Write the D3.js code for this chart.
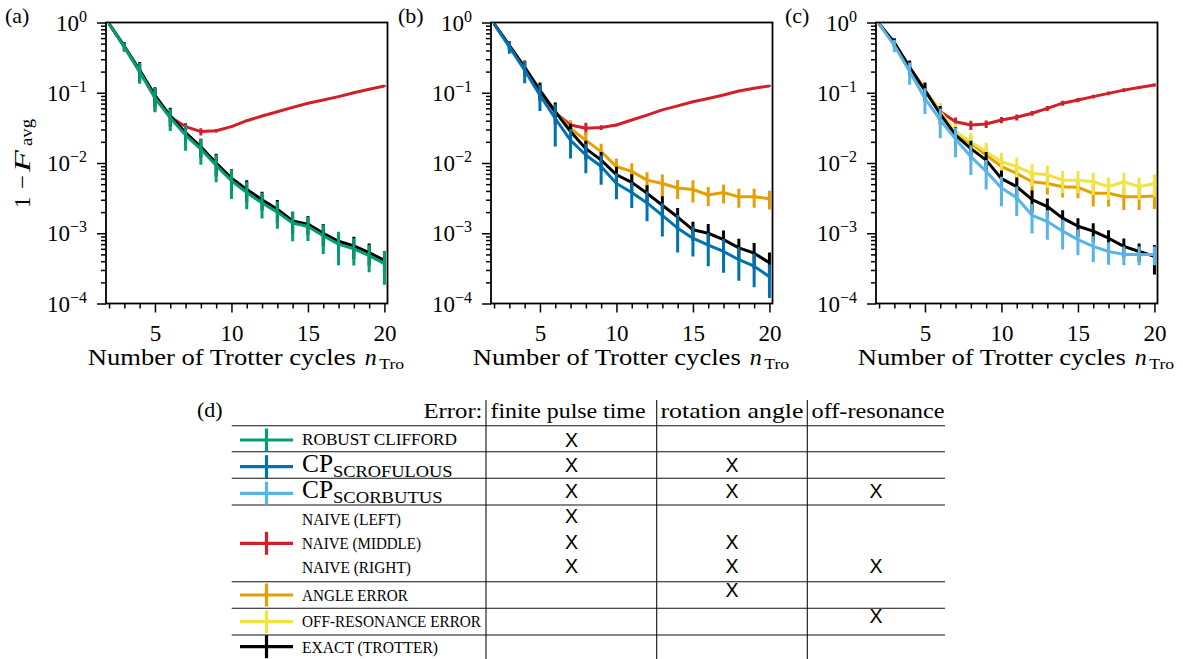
<!DOCTYPE html>
<html><head><meta charset="utf-8">
<script src="https://cdn.jsdelivr.net/npm/d3@7"></script>
<style>body{margin:0;background:#fff}svg{display:block}</style>
</head><body>
<svg id="c" width="1183" height="659"></svg>
<script>
// ---------------- data ----------------
const nTro = [2,3,4,5,6,7,8,9,10,11,12,13,14,15,16,17,18,19,20];
const xMajorTicks = [5,10,15,20];
const yMajorTicks = [1e-4,1e-3,1e-2,1e-1,1];
const yTickExponents = ["−4","−3","−2","−1","0"];

// panel (a)
const robustA      = [0.96,0.45,0.2,0.085,0.044,0.025,0.0158,0.0092,0.0056,0.0038,0.0027,0.002,0.0014,0.00125,0.00092,0.0007,0.0006,0.00048,0.00037];
const robustErrA   = [0,0.15,0.33,0.38,0.35,0.4,0.4,0.42,0.45,0.42,0.4,0.42,0.45,0.38,0.45,0.5,0.42,0.42,0.5];
const exactA       = [0.96,0.46,0.21,0.092,0.047,0.027,0.017,0.01,0.0061,0.0042,0.003,0.0022,0.0015,0.00135,0.001,0.00077,0.00066,0.00053,0.00041];
const exactErrA    = [0,0.15,0.3,0.3,0.3,0.3,0.3,0.35,0.35,0.35,0.3,0.35,0.35,0.3,0.35,0.35,0.35,0.35,0.35];
const naiveLeftA   = [0.96,0.45,0.2,0.085,0.045,0.033,0.028,0.0288,0.033,0.04,0.0467,0.0537,0.062,0.071,0.079,0.088,0.1,0.112,0.125];
const naiveLeftErrA= [0,0.1,0.3,0.35,0.15,0.12,0.12,0.06,0.04,0.03,0.03,0.03,0.03,0.03,0.03,0.03,0.03,0.03,0.03];

// panel (b)
const scrofB       = [0.96,0.45,0.21,0.092,0.043,0.021,0.013,0.0089,0.0051,0.0038,0.0027,0.0018,0.00118,0.00085,0.00068,0.00055,0.00042,0.00034,0.00024];
const scrofErrB    = [0,0.2,0.35,0.4,0.6,0.45,0.45,0.45,0.4,0.4,0.45,0.5,0.55,0.45,0.5,0.5,0.5,0.5,0.5];
const exactB       = [0.96,0.47,0.23,0.108,0.054,0.028,0.016,0.011,0.0068,0.0053,0.0037,0.0025,0.0017,0.00112,0.001,0.00081,0.00062,0.00052,0.00038];
const exactErrB    = [0,0.15,0.25,0.3,0.35,0.3,0.3,0.3,0.3,0.3,0.3,0.35,0.35,0.3,0.35,0.35,0.35,0.4,0.4];
const angleB       = [0.96,0.47,0.23,0.108,0.054,0.031,0.021,0.0145,0.0089,0.0076,0.0057,0.0051,0.0044,0.0042,0.0035,0.0038,0.0033,0.0033,0.0031];
const angleErrB    = [0,0.1,0.2,0.25,0.3,0.3,0.3,0.3,0.3,0.3,0.3,0.35,0.3,0.35,0.3,0.3,0.3,0.3,0.3];
const naiveMidB    = [0.96,0.47,0.23,0.105,0.052,0.0348,0.0312,0.032,0.0348,0.041,0.048,0.057,0.065,0.0746,0.083,0.093,0.106,0.116,0.125];
const naiveMidErrB = [0,0.1,0.2,0.2,0.2,0.15,0.2,0.08,0.04,0.03,0.03,0.03,0.03,0.03,0.03,0.03,0.03,0.03,0.03];

// panel (c)
const scorbC       = [0.96,0.47,0.2,0.083,0.041,0.022,0.0123,0.0076,0.0044,0.0032,0.0018,0.00147,0.00107,0.00081,0.00065,0.00055,0.0005,0.0005,0.0005];
const scorbErrC    = [0,0.2,0.35,0.4,0.45,0.45,0.45,0.45,0.45,0.45,0.45,0.45,0.45,0.4,0.4,0.35,0.3,0.3,0.3];
const exactC       = [0.96,0.52,0.23,0.108,0.05,0.025,0.016,0.011,0.006,0.0046,0.003,0.0024,0.00164,0.00126,0.00107,0.00085,0.00065,0.00055,0.00047];
const exactErrC    = [0,0.15,0.25,0.3,0.3,0.3,0.3,0.3,0.3,0.35,0.35,0.3,0.3,0.3,0.3,0.3,0.3,0.3,0.45];
const offresC      = [0.96,0.5,0.23,0.108,0.054,0.028,0.02,0.0145,0.0104,0.0089,0.0071,0.0068,0.0057,0.0057,0.0054,0.0046,0.0054,0.0046,0.0051];
const offresErrC   = [0,0.1,0.2,0.25,0.3,0.3,0.35,0.35,0.35,0.35,0.35,0.35,0.35,0.35,0.35,0.35,0.35,0.35,0.35];
const angleC       = [0.96,0.5,0.23,0.108,0.054,0.026,0.019,0.013,0.0089,0.0071,0.0054,0.0051,0.0046,0.0045,0.0037,0.0037,0.0033,0.0033,0.0034];
const angleErrC    = [0,0.1,0.2,0.25,0.3,0.3,0.3,0.3,0.3,0.3,0.3,0.3,0.3,0.3,0.35,0.35,0.35,0.35,0.35];
const naiveRightC  = [0.96,0.5,0.23,0.108,0.054,0.0387,0.0348,0.0359,0.041,0.0447,0.051,0.06,0.071,0.079,0.088,0.098,0.109,0.119,0.129];
const naiveRightErrC=[0,0.1,0.15,0.15,0.15,0.15,0.15,0.12,0.1,0.1,0.08,0.08,0.08,0.07,0.06,0.06,0.06,0.05,0.05];

// table (d)
const tableColumns = ["finite pulse time","rotation angle","off-resonance"];
const tableRowLabels = ["ROBUST CLIFFORD","SCROFULOUS","SCORBUTUS","NAIVE (LEFT)","NAIVE (MIDDLE)","NAIVE (RIGHT)","ANGLE ERROR","OFF-RESONANCE ERROR","EXACT (TROTTER)"];
const tableMarks = [[1,0,0],[1,1,0],[1,1,1],[1,0,0],[1,1,0],[1,1,1],[0,1,0],[0,0,1],[0,0,0]];

// ---------------- style / layout ----------------
const C = {green:"#009E73", blue:"#0072B2", sky:"#56B4E9", red:"#d02028", orange:"#E69F00", yellow:"#F0E442", black:"#000000"};
const SERIF = "'Liberation Serif', 'Times New Roman', serif";
const SANS = "'Liberation Sans', Arial, sans-serif";
const TOP = 22.5, BOTTOM = 303.5, PW = 281.5;
const svg = d3.select("#c");

const panels = [
  {label:"(a)", labelX:5, left:106, ylab:true, series:[
    {v:naiveLeftA, e:naiveLeftErrA, c:C.red},
    {v:exactA, e:exactErrA, c:C.black},
    {v:robustA, e:robustErrA, c:C.green}]},
  {label:"(b)", labelX:398, left:491, series:[
    {v:naiveMidB, e:naiveMidErrB, c:C.red},
    {v:angleB, e:angleErrB, c:C.orange},
    {v:exactB, e:exactErrB, c:C.black},
    {v:scrofB, e:scrofErrB, c:C.blue}]},
  {label:"(c)", labelX:785, left:876, series:[
    {v:naiveRightC, e:naiveRightErrC, c:C.red},
    {v:angleC, e:angleErrC, c:C.orange},
    {v:offresC, e:offresErrC, c:C.yellow},
    {v:exactC, e:exactErrC, c:C.black},
    {v:scorbC, e:scorbErrC, c:C.sky}]}
];

const minorY = [];
[-4,-3,-2,-1].forEach(d => { for (let k=2;k<=9;k++) minorY.push(k*Math.pow(10,d)); });

panels.forEach((p, pi) => {
  const x = d3.scaleLinear().domain([1.8, 20.2]).range([p.left, p.left + PW]);
  const y = d3.scaleLog().domain([1e-4, 1]).range([BOTTOM, TOP]);
  const g = svg.append("g");
  const cid = "clip" + pi;
  svg.append("clipPath").attr("id", cid).append("rect")
    .attr("x", p.left).attr("y", TOP).attr("width", PW).attr("height", BOTTOM - TOP);
  const dg = g.append("g").attr("clip-path", `url(#${cid})`);
  const line = d3.line().x((d,i) => x(nTro[i])).y(d => y(d));
  p.series.forEach(s => {
    const sg = dg.append("g");
    s.v.forEach((val, i) => {
      if (s.e[i] <= 0) return;
      sg.append("line")
        .attr("x1", x(nTro[i])).attr("x2", x(nTro[i]))
        .attr("y1", y(val * (1 + s.e[i]))).attr("y2", y(Math.max(val * (1 - s.e[i]), 1e-6)))
        .attr("stroke", s.c).attr("stroke-width", 3);
    });
    sg.append("path").datum(s.v).attr("d", line)
      .attr("fill", "none").attr("stroke", s.c).attr("stroke-width", 3)
      .attr("stroke-linejoin", "round");
  });

  // axes
  const axMinorX = d3.axisBottom(x).tickValues(nTro.filter(n => !xMajorTicks.includes(n))).tickSize(5).tickFormat("");
  const axMajorX = d3.axisBottom(x).tickValues(xMajorTicks).tickSize(9).tickPadding(12);
  const axMinorY = d3.axisLeft(y).tickValues(minorY).tickSize(5).tickFormat("");
  const axMajorY = d3.axisLeft(y).tickValues(yMajorTicks).tickSize(9).tickFormat("");
  [axMinorX, axMajorX].forEach(a => {
    const ag = g.append("g").attr("transform", `translate(0,${BOTTOM})`).call(a);
    ag.select(".domain").remove();
    ag.selectAll(".tick line").attr("stroke", "#000").attr("stroke-width", 1.5);
    ag.selectAll(".tick text").attr("font-family", SERIF).attr("font-size", 23).attr("fill", "#000");
  });
  [axMinorY, axMajorY].forEach(a => {
    const ag = g.append("g").attr("transform", `translate(${p.left},0)`).call(a);
    ag.select(".domain").remove();
    ag.selectAll(".tick line").attr("stroke", "#000").attr("stroke-width", 1.5);
  });
  // y tick labels 10^k
  yMajorTicks.forEach((v, i) => {
    const t = g.append("text").attr("x", p.left - 19).attr("y", y(v) + 8)
      .attr("text-anchor", "end").attr("font-family", SERIF).attr("font-size", 23).attr("fill", "#000");
    t.append("tspan").text("10");
    t.append("tspan").attr("dy", -9).attr("font-size", 16).text(yTickExponents[i]);
  });
  // spines
  g.append("rect").attr("x", p.left).attr("y", TOP).attr("width", PW).attr("height", BOTTOM - TOP)
    .attr("fill", "none").attr("stroke", "#000").attr("stroke-width", 1.8);

  // x label
  const cx = p.left + PW / 2;
  g.append("text").attr("x", cx - 159).attr("y", 365).attr("font-family", SERIF).attr("font-size", 23)
    .attr("textLength", 268).attr("lengthAdjust", "spacingAndGlyphs").text("Number of Trotter cycles");
  g.append("text").attr("x", cx + 118).attr("y", 365).attr("font-family", SERIF).attr("font-size", 24)
    .attr("font-style", "italic").text("n");
  g.append("text").attr("x", cx + 132.5).attr("y", 368.5).attr("font-family", SERIF).attr("font-size", 15.5)
    .attr("textLength", 25).attr("lengthAdjust", "spacingAndGlyphs").text("Tro");

  // panel label
  svg.append("text").attr("x", p.labelX).attr("y", 23).attr("font-family", SERIF).attr("font-size", 22).text(p.label);

  if (p.ylab) {
    const yl = svg.append("g").attr("transform", "translate(30,210) rotate(-90)")
      .attr("font-family", SERIF).attr("font-size", 23);
    yl.append("text").attr("x", 2).text("1");
    yl.append("text").attr("x", 21).attr("textLength", 14).attr("lengthAdjust", "spacingAndGlyphs").text("−");
    yl.append("text").attr("x", 38).attr("font-style", "italic").attr("textLength", 22).attr("lengthAdjust", "spacingAndGlyphs").text("F");
    yl.append("text").attr("x", 64).attr("y", 2).attr("font-size", 16)
      .attr("textLength", 27).attr("lengthAdjust", "spacingAndGlyphs").text("avg");
  }
});

// ---------------- table (d) ----------------
const T = svg.append("g");
T.append("text").attr("x", 197).attr("y", 417).attr("font-family", SERIF).attr("font-size", 22).text("(d)");
const vLines = [486, 656.7, 807.3];
const colCenters = [571.5, 732, 876];
const hLines = [425.7, 451.7, 478.3, 505, 581.7, 608.3, 635];
hLines.forEach(yy => T.append("line").attr("x1", 231.7).attr("x2", 945).attr("y1", yy).attr("y2", yy)
  .attr("stroke", "#111").attr("stroke-width", 1.1));
vLines.forEach(xx => T.append("line").attr("x1", xx).attr("x2", xx).attr("y1", 400).attr("y2", 659)
  .attr("stroke", "#111").attr("stroke-width", 1.1));
// header
T.append("text").attr("x", 482.5).attr("y", 418).attr("text-anchor", "end").attr("font-family", SERIF)
  .attr("font-size", 21).attr("textLength", 59).attr("lengthAdjust", "spacingAndGlyphs").text("Error:");
const headX = [490.5, 660.5, 811.5], headW = [155, 143, 133];
tableColumns.forEach((c, i) => T.append("text").attr("x", headX[i]).attr("y", 418).attr("font-family", SERIF)
  .attr("font-size", 21).attr("textLength", headW[i]).attr("lengthAdjust", "spacingAndGlyphs").text(c));

// handles
const handles = [
  {y:440, c:C.green}, {y:466.7, c:C.blue}, {y:493.3, c:C.sky}, {y:543.3, c:C.red},
  {y:595, c:C.orange}, {y:621.7, c:C.yellow}, {y:646.7, c:C.black}];
handles.forEach(h => {
  T.append("line").attr("x1", 240).attr("x2", 293).attr("y1", h.y).attr("y2", h.y).attr("stroke", h.c).attr("stroke-width", 3.2);
  T.append("line").attr("x1", 266.5).attr("x2", 266.5).attr("y1", h.y - 11.5).attr("y2", h.y + 11.5).attr("stroke", h.c).attr("stroke-width", 3.2);
});

// row labels
const rowBase = [445, 476.7, 503.3, 525, 548.8, 573.3, 600.7, 626.7, 653.3];
const rowW = [155, 119.5, 109.5, 99, 119, 109, 106, 179, 136];
const rowX = [302, 333, 333, 302, 302, 302, 302, 302, 302];
tableRowLabels.forEach((lab, i) => {
  T.append("text").attr("x", rowX[i]).attr("y", rowBase[i]).attr("font-family", SERIF).attr("font-size", 16)
    .attr("textLength", rowW[i]).attr("lengthAdjust", "spacingAndGlyphs").text(lab);
});
// CP prefixes
[471.7, 498.3].forEach(b => T.append("text").attr("x", 302).attr("y", b).attr("font-family", SERIF)
  .attr("font-size", 24.5).attr("textLength", 31).attr("lengthAdjust", "spacingAndGlyphs").text("CP"));

// X marks
const markBase = [447, 471.7, 498, 523, 549, 573.3, 596.7, 623.3, 650];
tableMarks.forEach((row, i) => row.forEach((m, j) => {
  if (!m) return;
  T.append("text").attr("x", colCenters[j]).attr("y", markBase[i]).attr("text-anchor", "middle")
    .attr("font-family", SANS).attr("font-size", 19.5).text("X");
}));
</script>
</body></html>
